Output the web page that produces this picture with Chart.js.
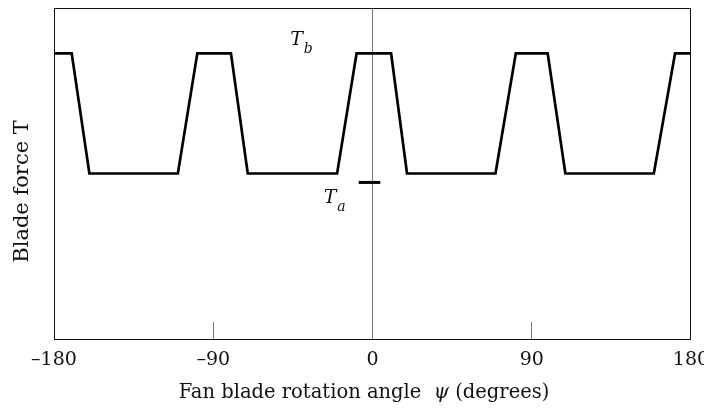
<!DOCTYPE html>
<html>
<head>
<meta charset="utf-8">
<script src="https://cdn.jsdelivr.net/npm/chart.js@4/dist/chart.umd.min.js"></script>
<style>
  html, body { margin: 0; padding: 0; background: #fff; }
  #wrap { width: 704px; height: 409px; }
</style>
</head>
<body>
<div id="wrap"><canvas id="myChart"></canvas></div>
<script>
// corners of the blade force wave: angle (deg) and force (arbitrary units)
let angles = [-180, -170, -160, -110, -99, -80, -70.5, -20, -9, 10.5, 19.5, 69.5, 81, 99, 109, 159, 171, 180]
let force  = [8.63, 8.63, 5, 5, 8.63, 8.63, 5, 5, 8.63, 8.63, 5, 5, 8.63, 8.63, 5, 5, 8.63, 8.63]

// short bar marking the T_a level
let taAngles = [-7.8, 4.4]
let taForce  = [4.73, 4.73]

let xTicks = [-180, -90, 0, 90, 180]

let serif = "'DejaVu Serif', serif"

let wave = angles.map(function (a, i) { return { x: a, y: force[i] } })
let taBar = taAngles.map(function (a, i) { return { x: a, y: taForce[i] } })

// frame, axis titles and the T_a / T_b labels
let extras = {
  id: 'extras',
  afterDraw: function (chart) {
    let ctx = chart.ctx
    let a = chart.chartArea
    let xs = chart.scales.x
    let ys = chart.scales.y
    ctx.save()

    ctx.strokeStyle = '#111'
    ctx.lineWidth = 1
    ctx.strokeRect(a.left + 0.5, a.top + 0.5, a.right - a.left - 1, a.bottom - a.top)

    ctx.fillStyle = '#111'
    ctx.textBaseline = 'alphabetic'

    // y title
    ctx.save()
    ctx.translate(28, 191.5)
    ctx.rotate(-Math.PI / 2)
    ctx.font = '21px ' + serif
    ctx.textAlign = 'center'
    ctx.fillText('Blade force T', 0, 0)
    ctx.restore()

    // x title, psi in italics
    let parts = [
      ['Fan blade rotation angle  ', '19.5px ' + serif],
      ['\u03c8', 'italic 19.5px ' + serif],
      [' (degrees)', '19.5px ' + serif]
    ]
    let total = 0
    parts.forEach(function (p) { ctx.font = p[1]; total += ctx.measureText(p[0]).width })
    let tx = 364 - total / 2
    ctx.textAlign = 'left'
    parts.forEach(function (p) {
      ctx.font = p[1]
      ctx.fillText(p[0], tx, 398)
      tx += ctx.measureText(p[0]).width
    })

    let sub = function (main, s, xv, yv) {
      let px = xs.getPixelForValue(xv)
      let py = ys.getPixelForValue(yv)
      ctx.font = 'italic 19px ' + serif
      ctx.fillText(main, px, py)
      ctx.font = 'italic 14px ' + serif
      ctx.fillText(s, px + 13.5, py + 8)
    }
    sub('T', 'b', -46.5, 8.88)
    sub('T', 'a', -27.6, 4.10)

    ctx.restore()
  }
}

let ctx = document.getElementById('myChart').getContext('2d')
let chart = new Chart(ctx, {
  type: 'line',
  data: {
    datasets: [{
      data: wave,
      borderColor: '#000',
      borderWidth: 2.7,
      borderJoinStyle: 'miter',
      pointRadius: 0,
      tension: 0,
      fill: false
    }, {
      data: taBar,
      borderColor: '#000',
      borderWidth: 3,
      pointRadius: 0,
      fill: false
    }]
  },
  options: {
    responsive: true,
    maintainAspectRatio: false,
    animation: false,
    events: [],
    layout: { padding: { top: 8, right: 13, bottom: 0, left: 0 } },
    plugins: {
      legend: { display: false },
      tooltip: { enabled: false }
    },
    scales: {
      x: {
        type: 'linear',
        min: -180,
        max: 180,
        afterBuildTicks: function (scale) {
          scale.ticks = xTicks.map(function (v) { return { value: v } })
        },
        afterFit: function (scale) {
          scale.height = 70
          scale.paddingLeft = 0
          scale.paddingRight = 0
        },
        border: { display: false },
        grid: {
          drawOnChartArea: true,
          lineWidth: 1,
          tickLength: -17,
          color: function (c) { return c.tick && c.tick.value === 0 ? '#777' : 'rgba(0,0,0,0)' },
          tickColor: function (c) { return c.tick && Math.abs(c.tick.value) === 90 ? '#777' : 'rgba(0,0,0,0)' }
        },
        ticks: {
          padding: 27,
          color: '#111',
          font: { family: serif, size: 19 },
          maxRotation: 0,
          autoSkip: false,
          callback: function (v) { return String(v).replace('-', '\u2013') }
        }
      },
      y: {
        min: 0,
        max: 10,
        afterFit: function (scale) { scale.width = 54 },
        border: { display: false },
        grid: { display: false },
        ticks: { display: false }
      }
    }
  },
  plugins: [extras]
})
</script>
</body>
</html>
